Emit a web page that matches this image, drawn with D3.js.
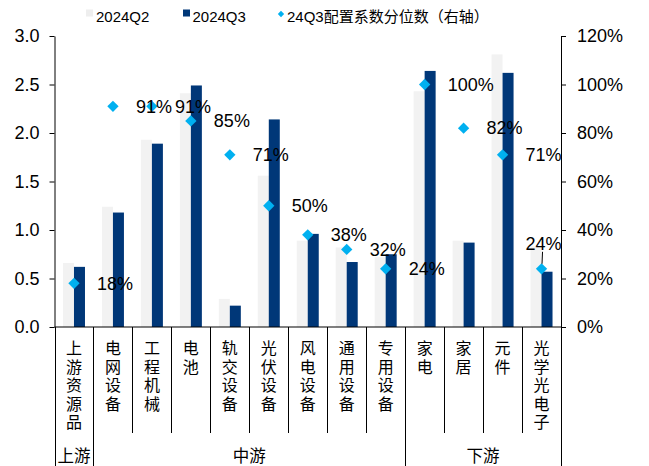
<!DOCTYPE html>
<html>
<head>
<meta charset="utf-8">
<script src="https://cdn.jsdelivr.net/npm/d3@7"></script>
<style>
  body { margin: 0; background: #fff; }
  text { font-family: "Liberation Sans", Arial, "Noto Sans CJK SC", sans-serif; fill: #000; }
</style>
</head>
<body>
<script>
// chart data
var categories = ["上游资源品", "电网设备", "工程机械", "电池", "轨交设备", "光伏设备", "风电设备",
                  "通用设备", "专用设备", "家电", "家居", "元件", "光学光电子"];
var q2Values = [0.66, 1.24, 1.93, 2.41, 0.29, 1.56, 0.89, 0.82, 0.72, 2.43, 0.89, 2.81, 0.83];
var q3Values = [0.62, 1.18, 1.89, 2.49, 0.22, 2.14, 0.96, 0.67, 0.75, 2.64, 0.87, 2.62, 0.57];
var pctValues = [0.18, 0.91, 0.91, 0.85, 0.71, 0.50, 0.38, 0.32, 0.24, 1.00, 0.82, 0.71, 0.24];
var leftTicks = [0, 0.5, 1.0, 1.5, 2.0, 2.5, 3.0];
var rightTicks = [0, 0.2, 0.4, 0.6, 0.8, 1.0, 1.2];
var groupNames = ["上游", "中游", "下游"];
var groupStarts = [0, 1, 9];
var groupEnds = [1, 9, 13];
var legendNames = ["2024Q2", "2024Q3", "24Q3配置系数分位数（右轴）"];

var colorQ2 = "#f2f2f2",
    colorQ3 = "#003778",
    colorPct = "#00b0f0";

var width = 649,
    height = 466,
    margin = {top: 36, left: 54.5, right: 88, bottom: 139};

var svg = d3.select("body")
            .append("svg")
            .attr("width", width)
            .attr("height", height);

// scales
var xScale = d3.scaleBand()
               .domain(categories)
               .range([margin.left, width - margin.right])
               .paddingInner(0)
               .paddingOuter(0);

var yLeft = d3.scaleLinear()
              .domain([0, 3])
              .range([height - margin.bottom, margin.top]);

var yRight = d3.scaleLinear()
               .domain([0, 1.2])
               .range([height - margin.bottom, margin.top]);

var barWidth = 11;
var baseY = yLeft(0);

// bars for Q2 (left of centre) and Q3 (right of centre)
svg.selectAll("rect.q2")
   .data(q2Values)
   .enter()
   .append("rect")
   .attr("class", "q2")
   .attr("x", function(d, i) { return xScale(categories[i]) + xScale.bandwidth() / 2 - barWidth; })
   .attr("y", function(d) { return yLeft(d); })
   .attr("width", barWidth)
   .attr("height", function(d) { return baseY - yLeft(d); })
   .attr("fill", colorQ2);

svg.selectAll("rect.q3")
   .data(q3Values)
   .enter()
   .append("rect")
   .attr("class", "q3")
   .attr("x", function(d, i) { return xScale(categories[i]) + xScale.bandwidth() / 2; })
   .attr("y", function(d) { return yLeft(d); })
   .attr("width", barWidth)
   .attr("height", function(d) { return baseY - yLeft(d); })
   .attr("fill", colorQ3);

// left axis
var leftAxis = svg.append("g")
   .attr("transform", "translate(" + margin.left + ",0)")
   .call(d3.axisLeft(yLeft).tickValues(leftTicks).tickFormat(d3.format(".1f"))
           .tickSize(5).tickSizeOuter(0).tickPadding(10));

// right axis
var rightAxis = svg.append("g")
   .attr("transform", "translate(" + (width - margin.right) + ",0)")
   .call(d3.axisRight(yRight).tickValues(rightTicks).tickFormat(d3.format(".0%"))
           .tickSize(5).tickSizeOuter(0).tickPadding(11));

[leftAxis, rightAxis].forEach(function(ax) {
  ax.selectAll("text").style("font-size", "18px").attr("font-family", null);
  ax.selectAll("line, path").attr("stroke", "#000");
});

// category axis line
svg.append("line")
   .attr("x1", margin.left).attr("x2", width - margin.right)
   .attr("y1", baseY).attr("y2", baseY)
   .attr("stroke", "#000");

// separators between categories
var bounds = d3.range(categories.length + 1);
svg.selectAll("line.sep")
   .data(bounds)
   .enter()
   .append("line")
   .attr("class", "sep")
   .attr("x1", function(i) { return Math.round(margin.left + i * xScale.step()) + 0.5; })
   .attr("x2", function(i) { return Math.round(margin.left + i * xScale.step()) + 0.5; })
   .attr("y1", baseY)
   .attr("y2", function(i) {
     var isGroupEdge = groupStarts.indexOf(i) >= 0 || i == categories.length;
     return isGroupEdge ? height : 433;
   })
   .attr("stroke", "#000");

// vertical category labels, one character per line
svg.selectAll("text.cat")
   .data(categories)
   .enter()
   .append("text")
   .attr("class", "cat")
   .attr("text-anchor", "middle")
   .style("font-size", "16px")
   .style("font-family", "'Noto Sans CJK SC', sans-serif")
   .each(function(d) {
     var t = d3.select(this);
     var cx = xScale(d) + xScale.bandwidth() / 2;
     d.split("").forEach(function(ch, k) {
       t.append("tspan")
        .attr("x", cx)
        .attr("y", 354 + k * 18.5)
        .text(ch);
     });
   });

// group labels
svg.selectAll("text.grp")
   .data(groupNames)
   .enter()
   .append("text")
   .attr("class", "grp")
   .attr("text-anchor", "middle")
   .attr("x", function(d, i) {
     return margin.left + (groupStarts[i] + groupEnds[i]) / 2 * xScale.step();
   })
   .attr("y", 462)
   .style("font-size", "16.5px")
   .style("font-family", "'Noto Sans CJK SC', sans-serif")
   .text(function(d) { return d; });

// diamonds for the percentile (right axis)
var diamond = d3.symbol().type(d3.symbolSquare).size(64);
svg.selectAll("path.pct")
   .data(pctValues)
   .enter()
   .append("path")
   .attr("class", "pct")
   .attr("d", diamond)
   .attr("transform", function(d, i) {
     return "translate(" + (xScale(categories[i]) + xScale.bandwidth() / 2) + "," + yRight(d) + ")rotate(45)";
   })
   .attr("fill", colorPct);

// percentile labels, right of the point; the last one sits above with a leader line
var lastIdx = categories.length - 1;
svg.selectAll("text.pctLabel")
   .data(pctValues)
   .enter()
   .append("text")
   .attr("class", "pctLabel")
   .attr("x", function(d, i) {
     var cx = xScale(categories[i]) + xScale.bandwidth() / 2;
     return i == lastIdx ? cx + 2 : cx + 23;
   })
   .attr("y", function(d, i) { return i == lastIdx ? yRight(d) - 25 : yRight(d); })
   .attr("dy", "0.35em")
   .attr("text-anchor", function(d, i) { return i == lastIdx ? "middle" : "start"; })
   .style("font-size", "18px")
   .text(function(d) { return Math.round(d * 100) + "%"; });

var lastX = xScale(categories[lastIdx]) + xScale.bandwidth() / 2;
svg.append("line")
   .attr("x1", lastX + 1).attr("x2", lastX + 0.5)
   .attr("y1", yRight(pctValues[lastIdx]) - 17)
   .attr("y2", yRight(pctValues[lastIdx]) - 5)
   .attr("stroke", "#000");

// legend
var legend = svg.append("g").attr("transform", "translate(0,0)");
legend.append("rect").attr("x", 86).attr("y", 9.5).attr("width", 7).attr("height", 7).attr("fill", "#eeeeee");
legend.append("rect").attr("x", 183).attr("y", 9.5).attr("width", 7).attr("height", 7).attr("fill", colorQ3);
legend.append("path")
      .attr("d", d3.symbol().type(d3.symbolSquare).size(20))
      .attr("transform", "translate(281,14)rotate(45)")
      .attr("fill", colorPct);
var legendX = [96, 192.5, 287];
legend.selectAll("text")
      .data(legendNames)
      .enter()
      .append("text")
      .attr("x", function(d, i) { return legendX[i]; })
      .attr("y", 21.5)
      .style("font-size", "15px")
      .text(function(d) { return d; });
</script>
</body>
</html>
